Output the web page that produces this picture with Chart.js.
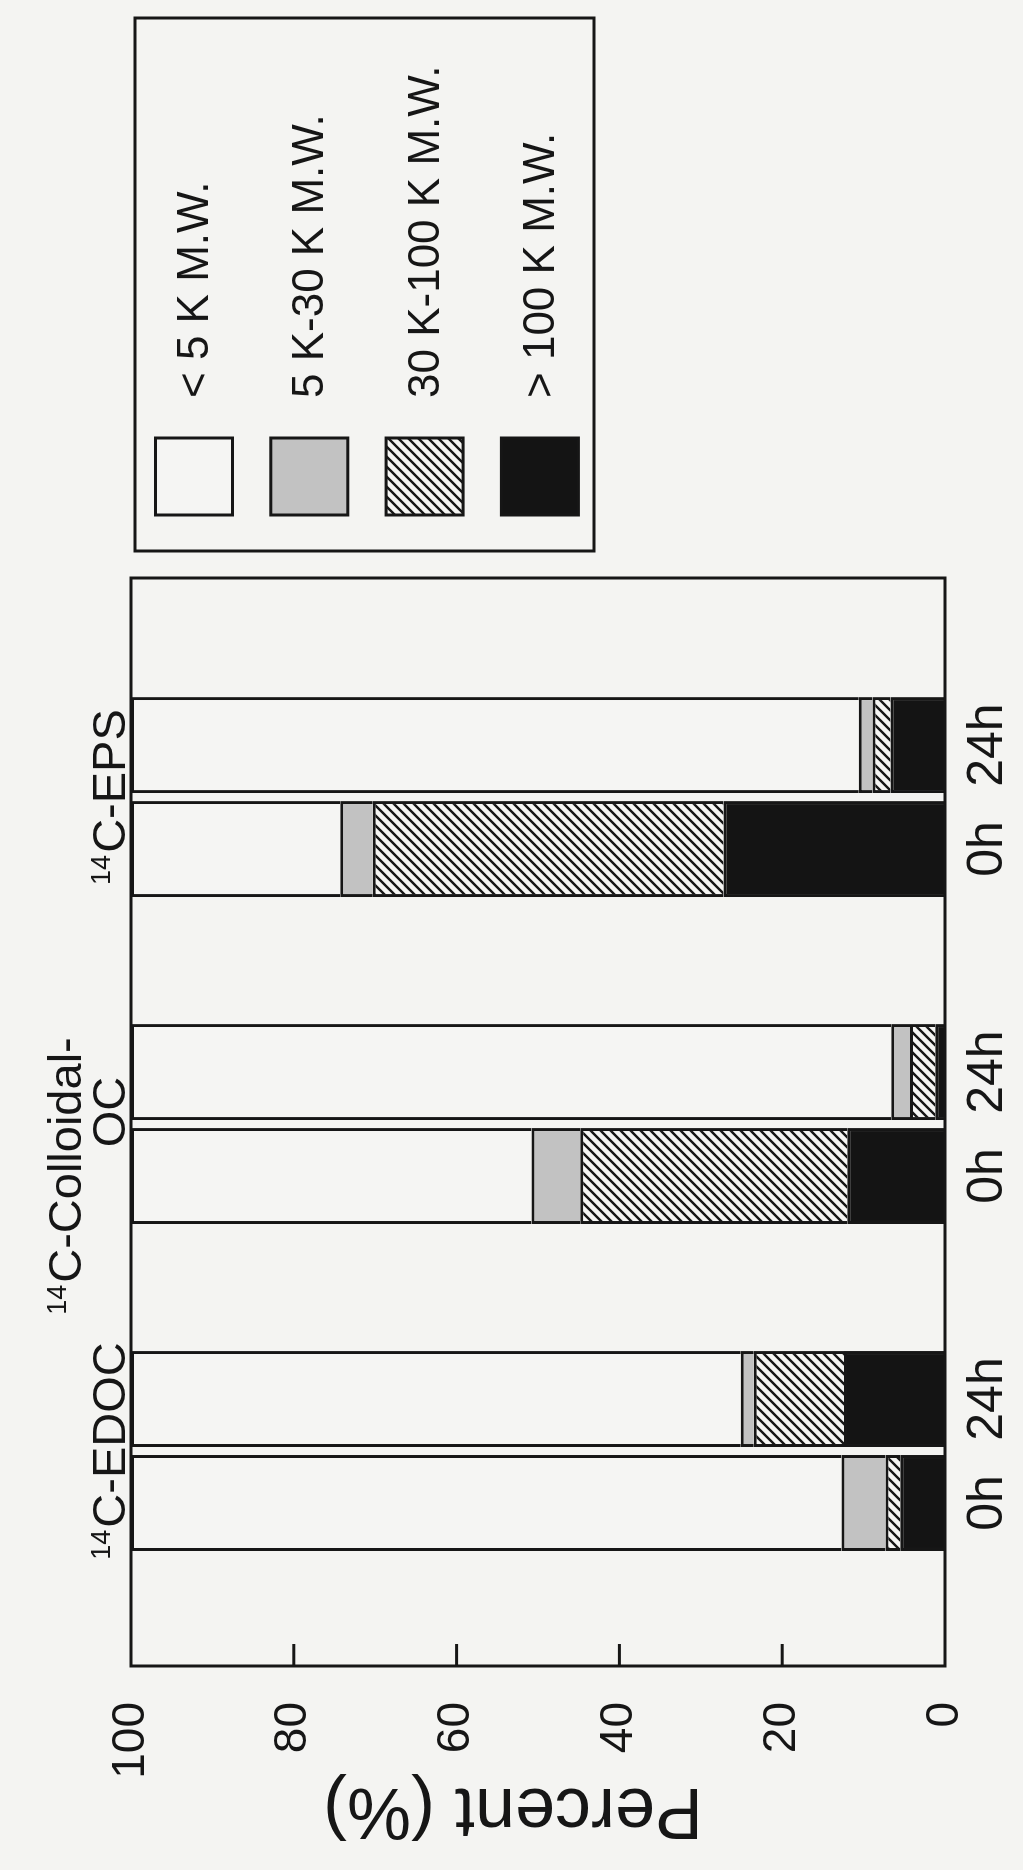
<!DOCTYPE html>
<html>
<head>
<meta charset="utf-8">
<script src="https://cdn.jsdelivr.net/npm/chart.js@4.4.1/dist/chart.umd.min.js"></script>
<style>
  html, body { margin: 0; padding: 0; background: #f4f4f2; }
  #wrap { position: relative; width: 1023px; height: 1870px; overflow: hidden; }
  /* the figure is drawn upright, then turned a quarter turn to the left like the scan */
  #chart { position: absolute; left: 0; top: 0; transform-origin: 0 0; transform: translate(0, 1870px) rotate(-90deg); }
</style>
</head>
<body>
<div id="wrap"><canvas id="chart" width="1870" height="1023"></canvas></div>
<script>
// groups along the axis, label lines (first line gets the 14 superscript)
const isotope = "14";
const groupNames = [["C-EDOC"], ["C-Colloidal-", "OC"], ["C-EPS"]];
const groupPos = [1, 2, 3];
const times = ["0h", "24h"];
const sizeClasses = ["< 5 K M.W.", "5 K-30 K M.W.", "30 K-100 K M.W.", "> 100 K M.W."];
const percentTicks = [0, 20, 40, 60, 80, 100];
const axisTitle = "Percent (%)";

// percent of label in each size class, per group (EDOC, Colloidal-OC, EPS)
const under5_0h = [87.3, 49.2, 25.7];
const k5to30_0h = [5.4, 6.0, 4.0];
const k30to100_0h = [1.8, 32.8, 43.1];
const over100_0h = [5.5, 12.0, 27.2];

const under5_24h = [74.9, 93.4, 89.4];
const k5to30_24h = [1.6, 2.3, 1.7];
const k30to100_24h = [11.1, 3.1, 2.2];
const over100_24h = [12.4, 1.2, 6.7];

const fam = '"Liberation Sans", Arial, Helvetica, sans-serif';
const ink = "#161616";
const paper = "#f5f5f3";

const canvas = document.getElementById("chart");
const ctx = canvas.getContext("2d");

function makeHatch() {
    const c = document.createElement("canvas");
    c.width = 10; c.height = 10;
    const g = c.getContext("2d");
    g.fillStyle = paper;
    g.fillRect(0, 0, 10, 10);
    g.strokeStyle = ink;
    g.lineWidth = 2.4;
    g.beginPath();
    g.moveTo(-1, 11); g.lineTo(11, -1);
    g.moveTo(-6, 6); g.lineTo(6, -6);
    g.moveTo(4, 16); g.lineTo(16, 4);
    g.stroke();
    return ctx.createPattern(c, "repeat");
}
const hatch = makeHatch();
// fills in the order of sizeClasses
const classFills = [paper, "#c2c2c2", hatch, "#141414"];

const byTime = {
    "0h": [under5_0h, k5to30_0h, k30to100_0h, over100_0h],
    "24h": [under5_24h, k5to30_24h, k30to100_24h, over100_24h]
};

const datasets = [];
times.forEach(t => {
    // stack from the bottom: > 100 K first, < 5 K on top
    for (let c = sizeClasses.length - 1; c >= 0; c--) {
        datasets.push({
            label: sizeClasses[c] + " " + t,
            stack: t,
            data: groupPos.map((x, i) => ({ x: x, y: byTime[t][c][i] })),
            backgroundColor: classFills[c],
            borderColor: ink,
            borderWidth: 3,
            borderSkipped: "start",
            categoryPercentage: 0.636,
            barPercentage: 0.923
        });
    }
});

function drawIsoLabel(g, sup, text, cx, base) {
    g.font = "47px " + fam;
    const w = g.measureText(text).width;
    g.font = "27px " + fam;
    const ws = sup ? g.measureText(sup).width + 2 : 0;
    const x0 = cx - (w + ws) / 2;
    g.textAlign = "left";
    g.textBaseline = "alphabetic";
    if (sup) g.fillText(sup, x0, base - 15);
    g.font = "47px " + fam;
    g.fillText(text, x0 + ws, base);
}

const decor = {
    id: "decor",
    afterDatasetsDraw(chart) {
        const g = chart.ctx;
        const a = chart.chartArea;
        const x = chart.scales.x, y = chart.scales.y;
        g.save();
        g.strokeStyle = ink;
        g.fillStyle = ink;
        g.lineWidth = 3;
        g.strokeRect(a.left, a.top, a.right - a.left, a.bottom - a.top);

        // ticks point into the plot
        y.ticks.forEach(t => {
            if (t.value <= y.min || t.value >= y.max) return;
            const py = y.getPixelForValue(t.value);
            g.beginPath();
            g.moveTo(a.left, py);
            g.lineTo(a.left + 22, py);
            g.stroke();
        });

        // axis title, a little above the middle of the axis as in the scan
        g.save();
        g.translate(61, (a.top + a.bottom) / 2 - 25);
        g.rotate(-Math.PI / 2);
        g.font = "72px " + fam;
        g.textAlign = "center";
        g.textBaseline = "middle";
        g.fillText(axisTitle, 0, 0);
        g.restore();

        // 0h / 24h under each bar
        g.font = "50px " + fam;
        g.textAlign = "center";
        g.textBaseline = "alphabetic";
        times.forEach(t => {
            const idx = chart.data.datasets.findIndex(d => d.stack === t);
            chart.getDatasetMeta(idx).data.forEach(bar => {
                g.fillText(t, bar.x, a.bottom + 57);
            });
        });

        // group names above the frame
        const twoLineShift = [-52, 12];
        groupNames.forEach((lines, i) => {
            const cx = x.getPixelForValue(groupPos[i]);
            lines.forEach((line, j) => {
                const base = a.top - 6 - (lines.length - 1 - j) * 44;
                const shift = lines.length > 1 ? twoLineShift[j] : 0;
                drawIsoLabel(g, j === 0 ? isotope : "", line, cx + shift, base);
            });
        });
        g.restore();
    },
    afterDraw(chart) {
        const g = chart.ctx;
        const a = chart.chartArea;
        const lx = a.right + 27, ly = a.top + 4, lw = 533, lh = 459;
        g.save();
        g.strokeStyle = ink;
        g.lineWidth = 3;
        g.strokeRect(lx, ly, lw, lh);
        g.font = "44px " + fam;
        g.textAlign = "left";
        g.textBaseline = "middle";
        sizeClasses.forEach((name, i) => {
            const cy = ly + 59 + i * 115.3;
            g.fillStyle = classFills[i];
            g.fillRect(lx + 36, cy - 38.5, 77, 77);
            g.strokeRect(lx + 36, cy - 38.5, 77, 77);
            g.fillStyle = ink;
            g.fillText(name, lx + 153, cy + 2);
        });
        g.restore();
    }
};

new Chart(ctx, {
    type: "bar",
    data: { datasets: datasets },
    options: {
        responsive: false,
        animation: false,
        devicePixelRatio: 1,
        layout: { padding: { top: 131, right: 578, bottom: 78, left: 0 } },
        plugins: {
            legend: { display: false },
            tooltip: { enabled: false }
        },
        scales: {
            x: {
                type: "linear",
                min: 0.3425,
                max: 3.67,
                offset: false,
                display: false,
                ticks: { stepSize: 1, includeBounds: false }
            },
            y: {
                stacked: true,
                min: percentTicks[0],
                max: percentTicks[percentTicks.length - 1],
                grid: { display: false },
                border: { display: false },
                ticks: {
                    stepSize: percentTicks[1] - percentTicks[0],
                    padding: 28,
                    color: ink,
                    font: { size: 46, family: fam }
                },
                afterFit: function (scale) { scale.width = 204; }
            }
        }
    },
    plugins: [decor]
});
</script>
</body>
</html>
